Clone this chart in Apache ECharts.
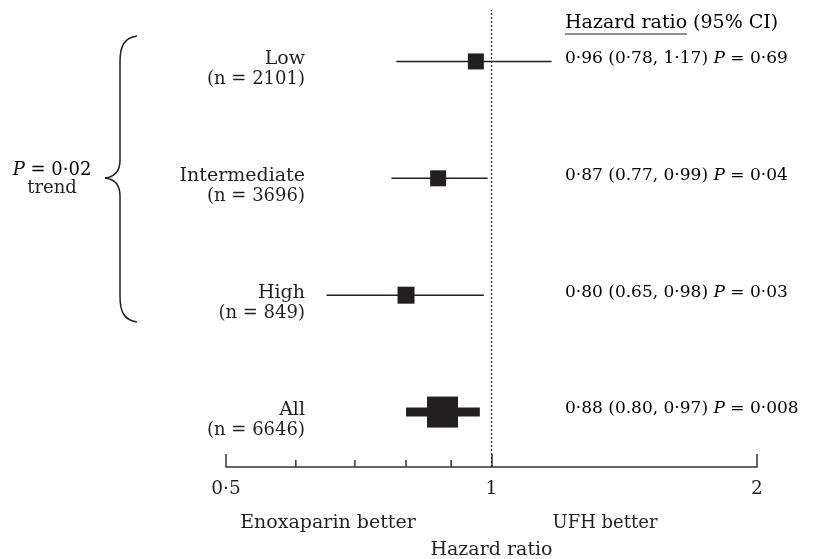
<!DOCTYPE html>
<html>
<head>
<meta charset="utf-8">
<script src="https://cdn.jsdelivr.net/npm/echarts@6/dist/echarts.min.js"></script>
<style>html,body{margin:0;padding:0;background:#fff}#c{width:821px;height:559px}</style>
</head>
<body>
<div id="c"></div>
<script>
// ---- data ----
const groups = ['Low', 'Intermediate', 'High', 'All'];
const nLabels = ['(n = 2101)', '(n = 3696)', '(n = 849)', '(n = 6646)'];
const hr = [0.96, 0.87, 0.80, 0.88];
const ciLow = [0.78, 0.77, 0.65, 0.80];
const ciHigh = [1.17, 0.99, 0.98, 0.97];
const hrText = ['0·96 (0·78, 1·17)', '0·87 (0.77, 0·99)', '0·80 (0.65, 0·98)', '0·88 (0.80, 0·97)'];
const pText = ['0·69', '0·04', '0·03', '0·008'];
const rowPos = [4, 3, 2, 1];
const xTicks = [0.5, 1, 2];
const xTickLabels = ['0·5', '1', '2'];
const minorTicks = [0.6, 0.7, 0.8, 0.9];
const trendText = ['P', ' = 0·02', 'trend'];
const headerText = ['Hazard ratio', ' (95% CI)'];
const sideLabels = ['Enoxaparin better', 'UFH better'];
const axisName = 'Hazard ratio';

// ---- style ----
const FONT = 'DejaVu Serif';
const FS = 18;      // n labels
const FW = 19;      // word text
const FV = 17;      // value text
const FH = 19;      // header
const FT = 18.5;    // tick labels
const INK = '#231f20';
const Y_MIN = 0.53, Y_MAX = 4.44;
const markerSize = [16, 16, 17, 31];
const ciWidth = [1.5, 1.5, 1.5, 9];

const chart = echarts.init(document.getElementById('c'), null, {renderer: 'canvas'});

const rows = groups.map((g, i) => [hr[i], rowPos[i], ciLow[i], ciHigh[i], i]);

function measure(t, fs) {
  const c = document.createElement('canvas').getContext('2d');
  c.font = fs + 'px "' + FONT + '"';
  return c.measureText(t).width;
}

const braceStyle = {stroke: INK, lineWidth: 1.5, fill: null};
const option = {
  animation: false,
  grid: {left: 226, right: 64, top: 10, bottom: 92, outerBoundsMode: 'none', containLabel: false},
  xAxis: {
    type: 'log', logBase: 2, min: 0.5, max: 2,
    axisLine: {lineStyle: {color: '#333', width: 1.5}},
    axisTick: {inside: true, length: 13, lineStyle: {color: '#333', width: 1.5}},
    splitLine: {show: false},
    axisLabel: {
      margin: 13, color: INK, fontFamily: FONT, fontSize: FT,
      formatter: v => { const k = xTicks.findIndex(t => Math.abs(t - v) < 1e-9); return k >= 0 ? xTickLabels[k] : ''; }
    },
    name: axisName, nameLocation: 'middle', nameGap: 74,
    nameTextStyle: {color: INK, fontFamily: FONT, fontSize: FW}
  },
  yAxis: {type: 'value', min: Y_MIN, max: Y_MAX, show: false},
  series: [
    {
      type: 'custom',
      data: minorTicks.map(v => [v, Y_MIN]),
      silent: true,
      renderItem: (params, api) => {
        const p = api.coord([api.value(0), Y_MIN]);
        return {type: 'line', shape: {x1: p[0], y1: p[1], x2: p[0], y2: p[1] - 7},
                style: {stroke: '#333', lineWidth: 1.5}};
      },
      markLine: {
        silent: true, symbol: 'none', label: {show: false},
        lineStyle: {type: [2, 2], color: '#222', width: 1.2},
        data: [{xAxis: 1}]
      }
    },
    {
      type: 'custom',
      data: rows,
      silent: true,
      renderItem: (params, api) => {
        const i = api.value(4);
        const c = api.coord([api.value(0), api.value(1)]);
        const a = api.coord([api.value(2), api.value(1)]);
        const b = api.coord([api.value(3), api.value(1)]);
        const s = markerSize[i];
        const y = c[1];
        return {
          type: 'group',
          children: [
            {type: 'line', shape: {x1: a[0], y1: y, x2: b[0], y2: y},
             style: {stroke: INK, lineWidth: ciWidth[i]}},
            {type: 'rect', shape: {x: c[0] - s / 2, y: y - s / 2, width: s, height: s},
             style: {fill: INK}},
            {type: 'text', x: 305, y: y - 2,
             style: {text: groups[i], align: 'right', verticalAlign: 'middle',
                     font: FW + 'px "' + FONT + '"', fill: INK}},
            {type: 'text', x: 305, y: y + 18,
             style: {text: nLabels[i], align: 'right', verticalAlign: 'middle',
                     font: FS + 'px "' + FONT + '"', fill: INK}},
            {type: 'text', x: 565, y: y - 3,
             style: {text: '{n|' + hrText[i] + ' }{i|P}{n| = ' + pText[i] + '}',
                     align: 'left', verticalAlign: 'middle',
                     rich: {n: {fontFamily: FONT, fontSize: FV, color: INK},
                            i: {fontFamily: FONT, fontSize: FV, fontStyle: 'italic', color: INK}}}}
          ]
        };
      }
    }
  ],
  graphic: [
    {type: 'text', x: 565, y: 23,
     style: {text: '{n|' + headerText[0] + '}{n|' + headerText[1] + '}', verticalAlign: 'middle', rich: {n: {fontFamily: FONT, fontSize: FH, color: INK}}}},
    {type: 'line', shape: {x1: 565, y1: 34, x2: 565 + measure(headerText[0], FH), y2: 34}, style: {stroke: INK, lineWidth: 1}},
    {type: 'text', x: 52, y: 170,
     style: {text: '{i|' + trendText[0] + '}{n|' + trendText[1] + '}', align: 'center', verticalAlign: 'middle',
             rich: {n: {fontFamily: FONT, fontSize: 18, color: INK}, i: {fontFamily: FONT, fontSize: 18, fontStyle: 'italic', color: INK}}}},
    {type: 'text', x: 52, y: 188,
     style: {text: trendText[2], align: 'center', verticalAlign: 'middle', font: '18px "' + FONT + '"', fill: INK}},
    {type: 'bezierCurve', shape: {x1: 137, y1: 36, cpx1: 124, cpy1: 38, cpx2: 120, cpy2: 46, x2: 120, y2: 62}, style: braceStyle},
    {type: 'line', shape: {x1: 120, y1: 62, x2: 120, y2: 160}, style: braceStyle},
    {type: 'bezierCurve', shape: {x1: 120, y1: 160, cpx1: 120, cpy1: 172, cpx2: 114, cpy2: 177, x2: 105, y2: 178}, style: braceStyle},
    {type: 'bezierCurve', shape: {x1: 105, y1: 178, cpx1: 114, cpy1: 179, cpx2: 120, cpy2: 184, x2: 120, y2: 196}, style: braceStyle},
    {type: 'line', shape: {x1: 120, y1: 196, x2: 120, y2: 296}, style: braceStyle},
    {type: 'bezierCurve', shape: {x1: 120, y1: 296, cpx1: 120, cpy1: 312, cpx2: 124, cpy2: 320, x2: 137, y2: 322}, style: braceStyle},
    {type: 'text', x: 328, y: 523,
     style: {text: sideLabels[0], align: 'center', verticalAlign: 'middle', font: FW + 'px "' + FONT + '"', fill: INK}},
    {type: 'text', x: 605, y: 523,
     style: {text: sideLabels[1], align: 'center', verticalAlign: 'middle', font: '18px "' + FONT + '"', fill: INK}}
  ]
};
chart.setOption(option);
</script>
</body>
</html>
